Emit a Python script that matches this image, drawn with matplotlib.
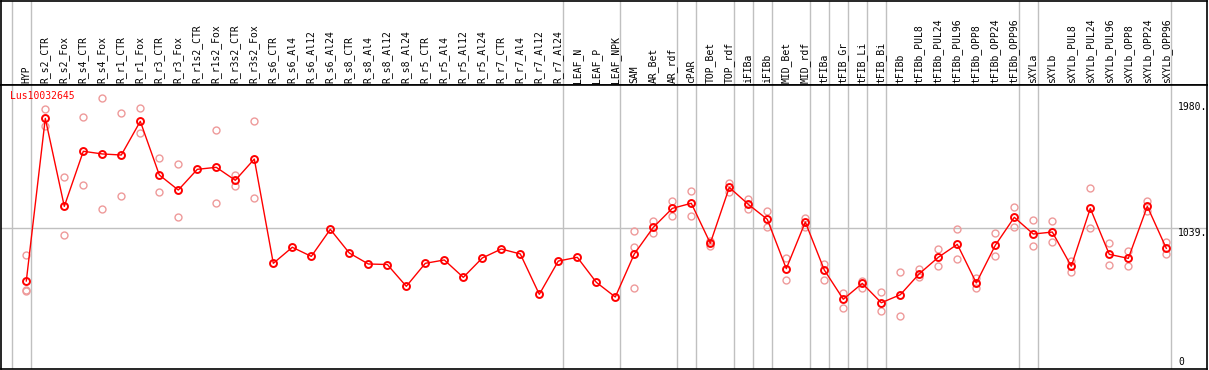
import numpy as np
import matplotlib
matplotlib.use("Agg")
import matplotlib.pyplot as plt

categories = ["HYP", "R_s2_CTR", "R_s2_Fox", "R_s4_CTR", "R_s4_Fox", "R_r1_CTR", "R_r1_Fox",
              "R_r3_CTR", "R_r3_Fox", "R_r1s2_CTR", "R_r1s2_Fox", "R_r3s2_CTR", "R_r3s2_Fox",
              "R_s6_CTR", "R_s6_Al4", "R_s6_Al12", "R_s6_Al24", "R_s8_CTR", "R_s8_Al4", "R_s8_Al12",
              "R_s8_Al24", "R_r5_CTR", "R_r5_Al4", "R_r5_Al12", "R_r5_Al24", "R_r7_CTR", "R_r7_Al4",
              "R_r7_Al12", "R_r7_Al24", "LEAF_N", "LEAF_P", "LEAF_NPK", "SAM", "AR_Bet", "AR_rdf",
              "cPAR", "TOP_Bet", "TOP_rdf", "iFIBa", "iFIBb", "MID_Bet", "MID_rdf", "tFIBa",
              "tFIB_Gr", "tFIB_Li", "tFIB_Bi", "tFIBb", "tFIBb_PUL8", "tFIBb_PUL24", "tFIBb_PUL96",
              "tFIBb_OPP8", "tFIBb_OPP24", "tFIBb_OPP96", "sXYLa", "sXYLb", "sXYLb_PUL8",
              "sXYLb_PUL24", "sXYLb_PUL96", "sXYLb_OPP8", "sXYLb_OPP24", "sXYLb_OPP96"]

mean_values = [645, 1861, 1203, 1615, 1595, 1587, 1839, 1438, 1325, 1480, 1495, 1398, 1557,
               777, 897, 829, 1031, 854, 772, 768, 605, 777, 802, 672, 817, 884, 847, 545, 794,
               822, 635, 525, 847, 1046, 1188, 1226, 927, 1345, 1218, 1106, 737, 1086, 727,
               508, 627, 482, 542, 699, 822, 919, 630, 912, 1121, 996, 1011, 755, 1188, 844,
               814, 1203, 889]

nan = np.nan
replicate_1 = [837, 1929, 1420, 1869, 2011, 1899, 1939, 1562, 1520, nan, 1774, 1435, 1841,
               nan, nan, nan, nan, nan, nan, nan, nan, nan, nan, nan, nan, nan, nan, nan, nan,
               nan, nan, nan, 1019, 1094, 1243, 1316, 944, 1378, 1261, 1166, 817, 1118, 772,
               553, 647, 560, 710, 737, 884, 1031, 670, 1001, 1198, 1101, 1095, 797, 1338, 927,
               869, 1241, 939]
replicate_2 = [575, 1802, 986, 1363, 1181, 1278, 1749, 1308, 1121, nan, 1228, 1358, 1263,
               nan, nan, nan, nan, nan, nan, nan, nan, nan, nan, nan, nan, nan, nan, nan, nan,
               nan, nan, nan, 897, 1001, 1133, 1131, 910, 1311, 1186, 1046, 650, 1051, 650,
               440, 595, 423, 383, 672, 759, 807, 592, 829, 1046, 904, 934, 710, 1039, 762,
               755, 1168, 844]
replicate_3 = [568] + [nan] * 31 + [592] + [nan] * 28

gene_name = "Lus10032645"
ytick_values = [1980, 1039, 0]
ytick_labels = ["1980.", "1039.", "0"]
group_after = [-1, 0, 28, 31, 34, 35, 37, 38, 39, 41, 42, 43, 44, 45, 52, 53, 60]

W, H = 1209, 370
fig = plt.figure(figsize=(W / 100, H / 100), dpi=100)
fig.patch.set_facecolor("white")

x_left_px, x_right_px = 1.0, 1207.0
x0_px, step_px = 26.3, 19.0
xlim = ((x_left_px - x0_px) / step_px, (x_right_px - x0_px) / step_px)

header_top, header_bot, plot_bot = 0.5, 85.0, 369.0
ax_h = fig.add_axes([x_left_px / W, 1 - header_bot / H, (x_right_px - x_left_px) / W,
                     (header_bot - header_top) / H])
ax = fig.add_axes([x_left_px / W, 1 - plot_bot / H, (x_right_px - x_left_px) / W,
                   (plot_bot - header_bot) / H])

y_per_px = 1 / 0.1337
ylim = ((367.2 - plot_bot) * y_per_px, (367.2 - header_bot) * y_per_px)

for a in (ax, ax_h):
    a.set_xlim(*xlim)
    a.set_xticks([])
    a.set_yticks([])
    for s in a.spines.values():
        s.set_color("black")
        s.set_linewidth(1.2)
    for k in group_after:
        a.axvline(k + 0.25, color="#c0c0c0", lw=1.0, zorder=0)
ax.set_ylim(*ylim)
ax.axhline(1039, color="#c0c0c0", lw=1.0, zorder=0)

mono = "DejaVu Sans Mono"
x = np.arange(len(categories))
for i, c in enumerate(categories):
    ax_h.text(i, 0.025, c, rotation=90, ha="center", va="bottom",
              fontsize=7, family=mono, transform=ax_h.get_xaxis_transform())

faint = "#ee9a9a"
for rep in (replicate_1, replicate_2, replicate_3):
    ax.plot(x, rep, ls="none", marker="o", ms=5, mfc="none", mec=faint, mew=1.0, zorder=2)
ax.plot(x, mean_values, color="#ff0000", lw=1.0, marker="o", ms=5, mfc="none",
        mec="#ff0000", mew=1.4, zorder=3)

label_x = (1178 - x0_px) / step_px
for v, lab in zip(ytick_values, ytick_labels):
    if v == 0:
        ax.text(label_x, v, lab, ha="left", va="bottom", fontsize=7, family=mono)
    else:
        ax.text(label_x, v, lab, ha="left", va="top", fontsize=7, family=mono)

ax.text(9 / 1206, 1 - 6 / 284, gene_name, color="#ff0000", ha="left", va="top",
        fontsize=7, family=mono, transform=ax.transAxes)

fig.savefig("out.png", dpi=100)
